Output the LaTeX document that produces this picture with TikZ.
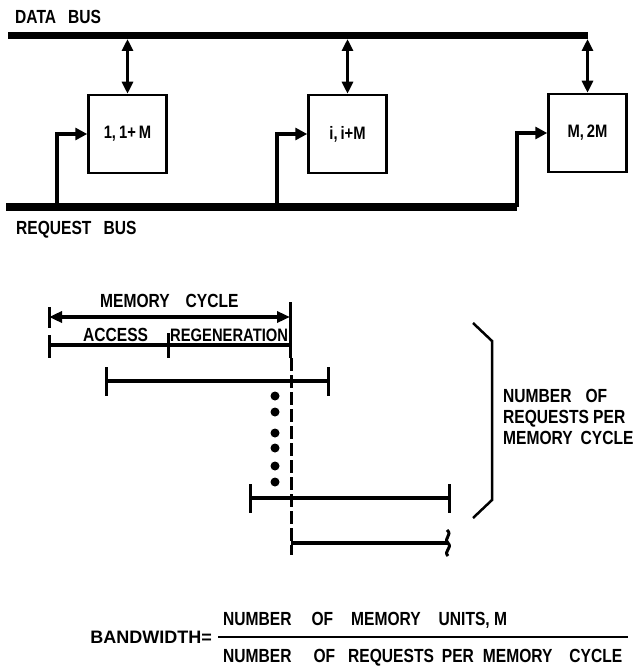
\documentclass[tikz,border=0pt]{standalone}
\usepackage{fontspec}
\setmainfont{Liberation Sans}
\newfontfamily\lettering{Liberation Sans}[FakeStretch=0.82]
\usetikzlibrary{arrows.meta}

\begin{document}
\begin{tikzpicture}[x=1pt,y=-1pt,
    bus/.style={line width=7pt},
    unit/.style={draw,line width=2.5pt,minimum size=78pt,inner sep=0pt,
      font=\lettering\bfseries\fontsize{18}{20}\selectfont},
    link/.style={line width=3.5pt,shorten <=3pt,
      {Triangle[length=12pt,width=11pt]}-{Triangle[length=12pt,width=11pt]}},
    feed/.style={line width=4.5pt,-{Triangle[length=12pt,width=12pt]}},
    tline/.style={line width=3.5pt},
    tickmark/.style={line width=3pt},
    words/.style={inner sep=0pt,anchor=base west,
      font=\lettering\bfseries\fontsize{19}{21}\selectfont}]
  \useasboundingbox (0,0) rectangle (642,668);
  % Memory units between the two buses
  \node[unit] (u1) at (127.5,134) {1,\,1+\,M};
  \node[unit] (u2) at (347.5,134) {i,\,i+M};
  \node[unit] (u3) at (587.5,133) {M,\,2M};
  % Data bus
  \coordinate (db-w) at (8,36);
  \coordinate (db-e) at (u3 |- db-w);
  \draw[bus] (db-w) -- (db-e);
  \node[words] (dbus) at (15,24) {DATA\hspace{12pt}BUS};
  \foreach \u in {u1,u2,u3}
    \draw[link] (\u |- db-w) -- (\u.north);
  % Request bus
  \coordinate (rb-w) at (6,207);
  \coordinate (rb-e) at (517,207);
  \coordinate (r1) at (57,207);
  \coordinate (r2) at (277,207);
  \draw[bus] (rb-w) -- (rb-e);
  \node[words] (rbus) at (16,234) {REQUEST\hspace{12pt}BUS};
  \draw[feed] (r1) |- (u1.west);
  \draw[feed] (r2) |- (u2.west);
  \draw[feed] (rb-e) |- (u3.west);
  % Memory cycle
  \coordinate (mc-l) at (49,317);
  \coordinate (mc-r) at (290,317);
  \draw[tline,{Triangle[length=13pt,width=11pt]}-{Triangle[length=13pt,width=11pt]}] (mc-l) -- (mc-r);
  \node[words] (mc) at (100,307) {MEMORY\hspace{16pt}CYCLE};
  \draw[tickmark] (49,307) -- (49,328);
  \draw[tickmark] (290,302) -- (290,358);
  % Access and regeneration
  \draw[tline] (49,345) -- (290,345);
  \draw[tickmark] (49,335) -- (49,358);
  \draw[tickmark] (168,333) -- (168,358);
  \node[words] (acc) at (83,341) {ACCESS};
  \node[words,font=\lettering\bfseries\fontsize{18}{20}\selectfont] (regen) at (170,341) {REGENERATION};
  % Requests overlapping the cycle
  \foreach \a/\b/\y in {106/328/381, 250/449/498} {
    \draw[tline] (\a,\y) -- (\b,\y);
    \draw[tickmark] (\a,\y-14) -- (\a,\y+15);
    \draw[tickmark] (\b,\y-14) -- (\b,\y+15);
  }
  \foreach \y in {396,412,433,448,466,482}
    \fill (275,\y) circle (4.5pt);
  \draw[tickmark,dash pattern=on 13pt off 4pt] (291,358) -- (291,555);
  \draw[tline] (291,543) -- (448,543);
  \draw[tickmark] (447,530) .. controls (453,535) and (443,538) .. (448,543)
    .. controls (453,548) and (443,551) .. (448,556);
  % Bracket and its label
  \draw[line width=2.5pt] (473,323) -- (492,341) -- (492,500) -- (473,518);
  \node[words,anchor=west,align=left] (nreq) at (503,417)
    {NUMBER\hspace{14pt}OF\\[0pt]REQUESTS PER\\[0pt]MEMORY\hspace{8pt}CYCLE};
  % Bandwidth
  \node[inner sep=0pt,anchor=base east,font=\bfseries\fontsize{18}{20}\selectfont]
    (bw) at (212,643) {BANDWIDTH=};
  \coordinate (fr-l) at (218,637);
  \coordinate (fr-r) at (628,637);
  \draw[line width=2.5pt] (fr-l) -- (fr-r);
  \node[words] (num) at (223,625)
    {NUMBER\hspace{20pt}OF\hspace{18pt}MEMORY\hspace{18pt}UNITS, M};
  \node[words] (den) at (223,662)
    {NUMBER\hspace{22pt}OF\hspace{13pt}REQUESTS\hspace{8pt}PER\hspace{9pt}MEMORY\hspace{17pt}CYCLE};
\end{tikzpicture}
\end{document}
